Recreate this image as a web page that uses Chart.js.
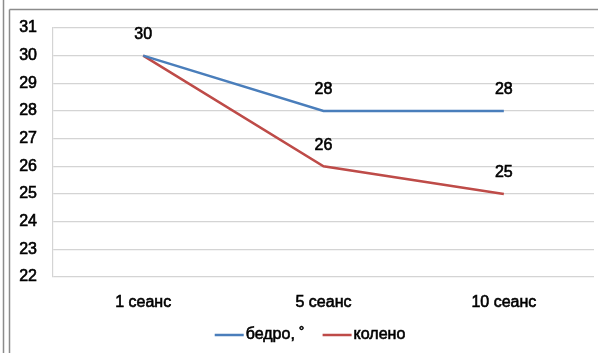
<!DOCTYPE html>
<html>
<head>
<meta charset="utf-8">
<script src="https://cdn.jsdelivr.net/npm/chart.js@4"></script>
<style>
  html, body { margin: 0; padding: 0; background: #fff; }
  #wrap { width: 598px; height: 353px; position: relative; }
</style>
</head>
<body>
<div id="wrap"><canvas id="c" width="598" height="353"></canvas></div>
<script>
// Sessions and measured angles
const sessions = ['1 сеанс', '5 сеанс', '10 сеанс'];
const hipValues = [30, 28, 28];
const kneeValues = [30, 26, 25];
const seriesNames = ['бедро, ˚', 'колено'];
const yTicks = [22, 23, 24, 25, 26, 27, 28, 29, 30, 31];

const FONT = "'Liberation Sans', Arial, sans-serif";
const STROKE = 0.6;

// Frame lines around the chart
const framePlugin = {
  id: 'frame',
  beforeDraw(chart) {
    const ctx = chart.ctx;
    ctx.save();
    ctx.strokeStyle = '#8c8c8c';
    ctx.lineWidth = 1.5;
    ctx.beginPath();
    ctx.moveTo(3.5, 0); ctx.lineTo(3.5, 353);
    ctx.moveTo(9.5, 9.5); ctx.lineTo(9.5, 353);
    ctx.moveTo(9.5, 9.5); ctx.lineTo(598, 9.5);
    ctx.stroke();
    ctx.restore();
  }
};

function boldText(ctx, text, x, y) {
  ctx.lineWidth = STROKE;
  ctx.strokeStyle = '#000';
  ctx.strokeText(text, x, y);
  ctx.fillText(text, x, y);
}

// Value labels above each point
const valueLabels = {
  id: 'valueLabels',
  afterDatasetsDraw(chart) {
    const ctx = chart.ctx;
    ctx.save();
    ctx.font = '16px ' + FONT;
    ctx.fillStyle = '#000';
    ctx.textAlign = 'center';
    ctx.textBaseline = 'middle';
    const drawn = new Set();
    chart.data.datasets.forEach((ds, i) => {
      const meta = chart.getDatasetMeta(i);
      meta.data.forEach((pt, j) => {
        const key = j + ':' + ds.data[j];
        if (drawn.has(key)) return;
        drawn.add(key);
        boldText(ctx, String(ds.data[j]), pt.x, pt.y - 21);
      });
    });
    ctx.restore();
  }
};

// Legend with short line samples under the axis
const lineLegend = {
  id: 'lineLegend',
  afterDraw(chart) {
    const ctx = chart.ctx;
    ctx.save();
    ctx.font = '16px ' + FONT;
    ctx.textBaseline = 'middle';
    const y = 335;
    const sample = 29, gap = 2, spacing = 18;
    const items = chart.data.datasets.map(ds => ({ label: ds.label, color: ds.borderColor, w: ctx.measureText(ds.label).width }));
    const total = items.reduce((s, it) => s + sample + gap + it.w, 0) + spacing * (items.length - 1);
    let x = 310 - total / 2;
    items.forEach(it => {
      ctx.strokeStyle = it.color;
      ctx.lineWidth = 2.5;
      ctx.beginPath();
      ctx.moveTo(x, y); ctx.lineTo(x + sample, y);
      ctx.stroke();
      ctx.fillStyle = '#000';
      boldText(ctx, it.label, x + sample + gap, y);
      x += sample + gap + it.w + spacing;
    });
    ctx.restore();
  }
};

new Chart(document.getElementById('c'), {
  type: 'line',
  data: {
    labels: sessions,
    datasets: [
      { label: seriesNames[0], data: hipValues, borderColor: '#4a7ebb', borderWidth: 2.5, pointRadius: 0, tension: 0, fill: false },
      { label: seriesNames[1], data: kneeValues, borderColor: '#be4b48', borderWidth: 2.5, pointRadius: 0, tension: 0, fill: false }
    ]
  },
  options: {
    responsive: false,
    animation: false,
    devicePixelRatio: 1,
    layout: { padding: { left: 0, right: 4, top: 28, bottom: 0 } },
    plugins: { legend: { display: false }, tooltip: { enabled: false } },
    scales: {
      x: {
        offset: true,
        grid: { display: false, drawTicks: false },
        border: { display: false },
        ticks: { color: '#000', font: { family: FONT, size: 16 }, padding: 16, maxRotation: 0, textStrokeWidth: STROKE, textStrokeColor: '#000' },
        afterFit(scale) { scale.height = 76; }
      },
      y: {
        min: 22, max: 31,
        afterBuildTicks(scale) { scale.ticks = yTicks.map(v => ({ value: v })); },
        grid: { color: '#d4d4d4', lineWidth: 1.2, drawTicks: false },
        border: { display: true, color: '#d4d4d4', width: 1.2 },
        ticks: { color: '#000', font: { family: FONT, size: 16 }, padding: 16, textStrokeWidth: STROKE, textStrokeColor: '#000' },
        afterFit(scale) { scale.width = 53; }
      }
    }
  },
  plugins: [framePlugin, valueLabels, lineLegend]
});
</script>
</body>
</html>
